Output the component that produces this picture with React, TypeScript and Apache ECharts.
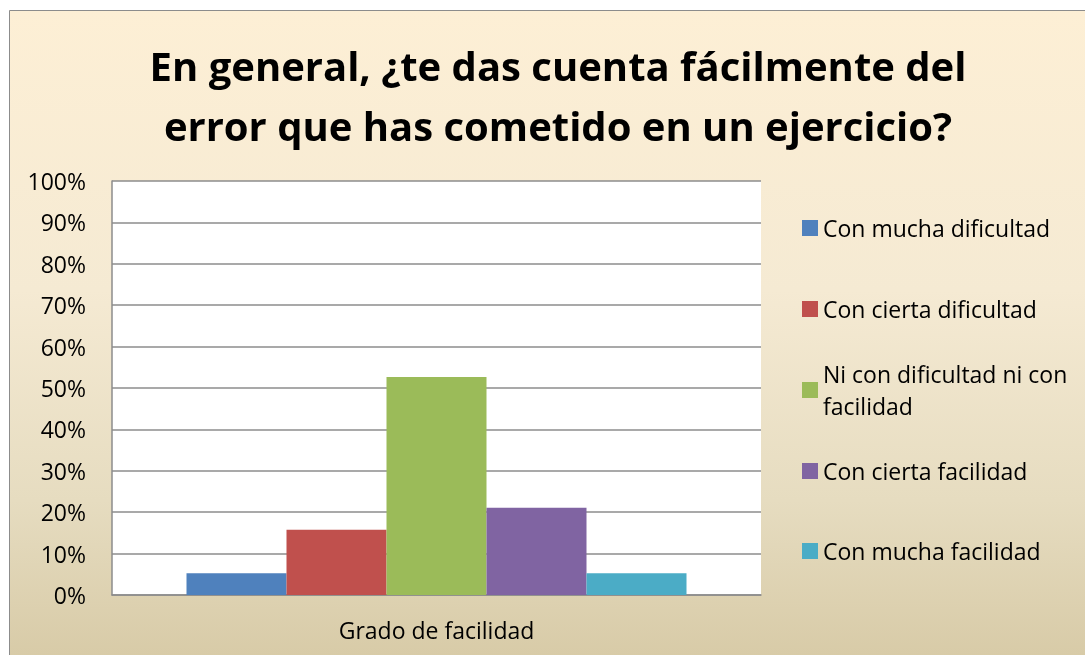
import React, { useEffect, useRef } from "react";
import * as echarts from "echarts";

const titleLines = [
  "En general, ¿te das cuenta fácilmente del",
  "error que has cometido en un ejercicio?",
];
const category = ["Grado de facilidad"];
const seriesNames = [
  "Con mucha dificultad",
  "Con cierta dificultad",
  "Ni con dificultad ni con facilidad",
  "Con cierta facilidad",
  "Con mucha facilidad",
];
const seriesValues = [5.26, 15.79, 52.63, 21.05, 5.26];
const seriesColors = ["#4F81BD", "#C0504D", "#9BBB59", "#8064A2", "#4BACC6"];
const legendCenters = [228, 309, 390, 471, 551];

const FONT = "'Open Sans', 'Noto Sans', sans-serif";

export default function App() {
  const ref = useRef<HTMLDivElement>(null);
  useEffect(() => {
    if (!ref.current) return;
    const chart = echarts.init(ref.current, null, { renderer: "svg" });
    const legends = seriesNames.map((name, i) => ({
      show: true,
      orient: "vertical",
      left: 802,
      top: i === 2 ? legendCenters[i] - 48 : legendCenters[i] - 16,
      padding: 0,
      itemWidth: 16,
      itemHeight: 16,
      itemGap: 0,
      selectedMode: false,
      icon: "rect",
      data: [name],
      formatter: (n: string) =>
        n === "Ni con dificultad ni con facilidad" ? "Ni con dificultad ni con\nfacilidad" : n,
      textStyle: {
        fontFamily: FONT,
        fontSize: 23,
        color: "#000",
        lineHeight: 32,
        padding: i === 2 ? [32, 0, 0, 0] : 0,
      },
    }));
    chart.setOption({
      animation: false,
      backgroundColor: "transparent",
      graphic: [
        {
          type: "rect",
          z: -10,
          silent: true,
          shape: { x: 9.5, y: 10.5, width: 1200, height: 700 },
          style: {
            fill: new echarts.graphic.LinearGradient(0, 0, 0, 1, [
              { offset: 0, color: "#FDEFD5" },
              { offset: 0.4, color: "#F5EAD3" },
              { offset: 0.7, color: "#E6DCC0" },
              { offset: 1, color: "#D3C59F" },
            ]),
            stroke: "#8C8C8C",
            lineWidth: 1,
          },
        },
        {
          type: "rect",
          z: -5,
          silent: true,
          shape: { x: 112, y: 181, width: 649, height: 414 },
          style: { fill: "#FFFFFF" },
        },
      ],
      title: {
        text: titleLines.join("\n"),
        left: 553,
        top: 30,
        textAlign: "center",
        textStyle: {
          fontFamily: FONT,
          fontWeight: "bold",
          fontSize: 40,
          lineHeight: 60,
          color: "#000",
        },
      },
      legend: legends,
      grid: { left: 112, top: 181, width: 649, height: 414, containLabel: false },
      xAxis: {
        type: "category",
        data: category,
        axisLine: { show: true, lineStyle: { color: "#8C8C8C", width: 1.5 } },
        axisTick: { show: false },
        axisLabel: {
          margin: 23,
          fontFamily: FONT,
          fontSize: 23,
          color: "#000",
        },
      },
      yAxis: {
        type: "value",
        min: 0,
        max: 100,
        interval: 10,
        axisLine: { show: true, lineStyle: { color: "#8C8C8C", width: 1.5 } },
        axisTick: { show: false },
        splitLine: { show: true, lineStyle: { color: "#8C8C8C", width: 1.5 } },
        axisLabel: {
          margin: 26,
          fontFamily: FONT,
          fontSize: 23,
          color: "#000",
          formatter: (v: number) => `${v}%`,
        },
      },
      series: seriesNames.map((name, i) => ({
        name,
        type: "bar",
        data: [seriesValues[i]],
        barWidth: 100,
        barGap: "0%",
        itemStyle: { color: seriesColors[i] },
      })),
    });
    return () => chart.dispose();
  }, []);
  return (
    <div
      ref={ref}
      style={{ position: "fixed", left: 0, top: 0, width: 1085, height: 655 }}
    />
  );
}
